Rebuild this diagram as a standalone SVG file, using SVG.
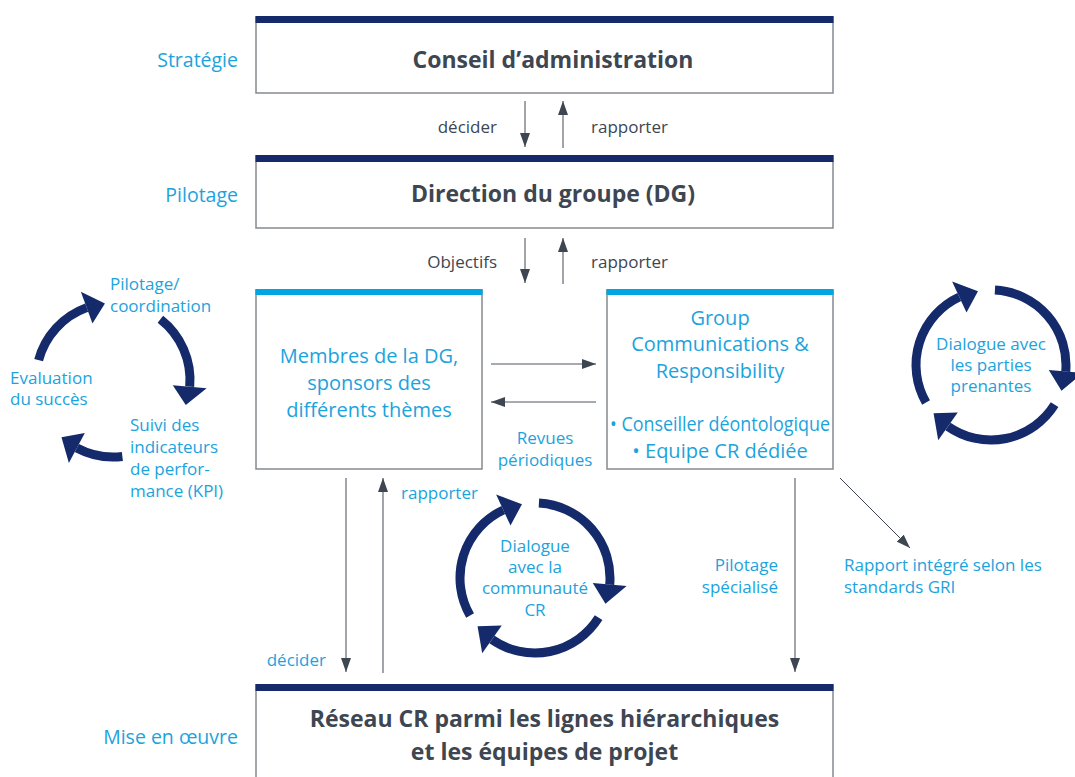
<svg xmlns="http://www.w3.org/2000/svg" xmlns:xlink="http://www.w3.org/1999/xlink" width="1075" height="777" viewBox="0 0 1075 777">
<style>
.box{fill:#fff;stroke:#858a8f;stroke-width:1.5}
.navy{fill:#142a6a}
.lb{fill:#00a6e2}
.title{font-family:"Open Sans","Noto Sans",sans-serif;font-weight:700;font-size:23px;fill:#3d4651;text-anchor:middle}
.t{font-family:"Open Sans","Noto Sans",sans-serif;font-size:17px;fill:#1ba3dd}
.lvl{font-family:"Open Sans","Noto Sans",sans-serif;font-size:19.5px;fill:#1ba3dd;text-anchor:end}
.tb{font-family:"Open Sans","Noto Sans",sans-serif;font-size:20px;fill:#1ba3dd;text-anchor:middle}
.d{font-family:"Open Sans","Noto Sans",sans-serif;font-size:17px;fill:#3d4651}
.c{text-anchor:middle}
.r{text-anchor:end}
.conn line{stroke:#8a8e93;stroke-width:1.6;marker-end:url(#ah)}
.cyc path{fill:none;stroke:#142a6a;stroke-width:9}
.cyc polygon{fill:#142a6a}
</style>
<defs>
<marker id="ah" viewBox="0 0 14 10" refX="14" refY="5" markerWidth="14" markerHeight="10" markerUnits="userSpaceOnUse" orient="auto">
<path d="M0,0 L14,5 L0,10 Z" fill="#3d4651"/>
</marker>
<g id="cycle" class="cyc">
<path d="M -64.95 37.5 A 75 75 0 0 1 -31.70 -67.97"/>
<polygon points="-24.51,-52.57 -38.88,-83.38 -13.02,-73.86"/>
<path d="M 3.93 -74.90 A 75 75 0 0 1 74.71 6.54"/>
<polygon points="57.78,5.06 91.65,8.02 70.48,25.65"/>
<path d="M 63.60 39.74 A 75 75 0 0 1 -43.02 61.44"/>
<polygon points="-33.27,47.51 -52.77,75.37 -57.45,48.21"/>
</g>
</defs>
<rect width="1075" height="777" fill="#fff"/>

<g id="level-labels">
<text class="lvl" x="238" y="67">Stratégie</text>
<text class="lvl" x="238" y="202">Pilotage</text>
<text class="lvl" x="238" y="744">Mise en œuvre</text>
</g>

<g id="conseil">
<rect class="box" x="256" y="17" width="577" height="76"/>
<rect class="navy" x="255.5" y="16" width="578" height="7"/>
<text class="title" x="553" y="68">Conseil d’administration</text>
</g>

<g id="direction">
<rect class="box" x="256" y="156" width="577" height="72"/>
<rect class="navy" x="255.5" y="155" width="578" height="7"/>
<text class="title" x="553" y="202">Direction du groupe (DG)</text>
</g>

<g id="membres">
<rect class="box" x="256" y="290" width="226" height="179"/>
<rect class="lb" x="255.5" y="289" width="227" height="6"/>
<text class="tb" x="369" y="363">Membres de la DG,</text>
<text class="tb" x="369" y="390">sponsors des</text>
<text class="tb" x="369" y="417">différents thèmes</text>
</g>

<g id="group-comm">
<rect class="box" x="607" y="290" width="226" height="179"/>
<rect class="lb" x="606.5" y="289" width="227" height="6"/>
<text class="tb" x="720" y="325">Group</text>
<text class="tb" x="720" y="351">Communications &amp;</text>
<text class="tb" x="720" y="378">Responsibility</text>
<text class="tb" x="720" y="431" textLength="220" lengthAdjust="spacingAndGlyphs">• Conseiller déontologique</text>
<text class="tb" x="720" y="458">• Equipe CR dédiée</text>
</g>

<g id="reseau">
<rect class="box" x="256" y="685" width="577" height="110"/>
<rect class="navy" x="255.5" y="684" width="578" height="7"/>
<text class="title" x="544.5" y="727">Réseau CR parmi les lignes hiérarchiques</text>
<text class="title" x="544.5" y="760">et les équipes de projet</text>
</g>

<g id="connectors" class="conn">
<line x1="525" y1="101" x2="525" y2="147"/>
<line x1="563" y1="148" x2="563" y2="101"/>
<line x1="525" y1="238" x2="525" y2="283"/>
<line x1="563" y1="284" x2="563" y2="238"/>
<line x1="491" y1="364" x2="596" y2="364"/>
<line x1="596" y1="402" x2="491" y2="402"/>
<line x1="346" y1="478" x2="346" y2="672"/>
<line x1="383" y1="673" x2="383" y2="478"/>
<line x1="795" y1="478" x2="795" y2="672"/>
<line x1="840" y1="478" x2="910" y2="548" style="stroke:#3d4651;stroke-width:1"/>
</g>

<g id="connector-labels">
<text class="d r" x="497" y="133">décider</text>
<text class="d" x="591" y="133">rapporter</text>
<text class="d r" x="497" y="268">Objectifs</text>
<text class="d" x="591" y="268">rapporter</text>
<text class="t c" x="545" y="444">Revues</text>
<text class="t c" x="545" y="466">périodiques</text>
<text class="t" x="401" y="499">rapporter</text>
<text class="t r" x="326" y="666">décider</text>
<text class="t r" x="778" y="571">Pilotage</text>
<text class="t r" x="778" y="593">spécialisé</text>
<text class="t" x="844" y="571">Rapport intégré selon les</text>
<text class="t" x="844" y="593">standards GRI</text>
</g>

<g id="cycle-left" class="cyc" transform="translate(113,380)">
<path d="M -74.38 -19.93 A 77 77 0 0 1 -26.34 -72.36"/>
<polygon points="-20.52,-56.38 -32.15,-88.33 -8.05,-76.58"/>
<path d="M 47.41 -60.68 A 77 77 0 0 1 76.71 6.71"/>
<polygon points="59.77,5.23 93.64,8.19 72.80,25.07"/>
<path d="M 9.38 76.42 A 77 77 0 0 1 -36.15 67.98"/>
<polygon points="-28.17,52.97 -44.13,82.99 -51.52,57.22"/>
</g>
<g id="cycle-left-labels">
<text class="t" x="110" y="290">Pilotage/</text>
<text class="t" x="110" y="312">coordination</text>
<text class="t" x="10" y="384">Evaluation</text>
<text class="t" x="10" y="405">du succès</text>
<text class="t" x="130" y="431">Suivi des</text>
<text class="t" x="130" y="453">indicateurs</text>
<text class="t" x="130" y="475">de perfor-</text>
<text class="t" x="130" y="497">mance (KPI)</text>
</g>

<g id="cycle-cr">
<use xlink:href="#cycle" transform="translate(535,578)"/>
<text class="t c" x="535" y="552">Dialogue</text>
<text class="t c" x="535" y="573">avec la</text>
<text class="t c" x="535" y="594">communauté</text>
<text class="t c" x="535" y="616">CR</text>
</g>

<g id="cycle-stakeholders">
<use xlink:href="#cycle" transform="translate(991,365)"/>
<text class="t c" x="991" y="350">Dialogue avec</text>
<text class="t c" x="991" y="371">les parties</text>
<text class="t c" x="991" y="392">prenantes</text>
</g>
</svg>
